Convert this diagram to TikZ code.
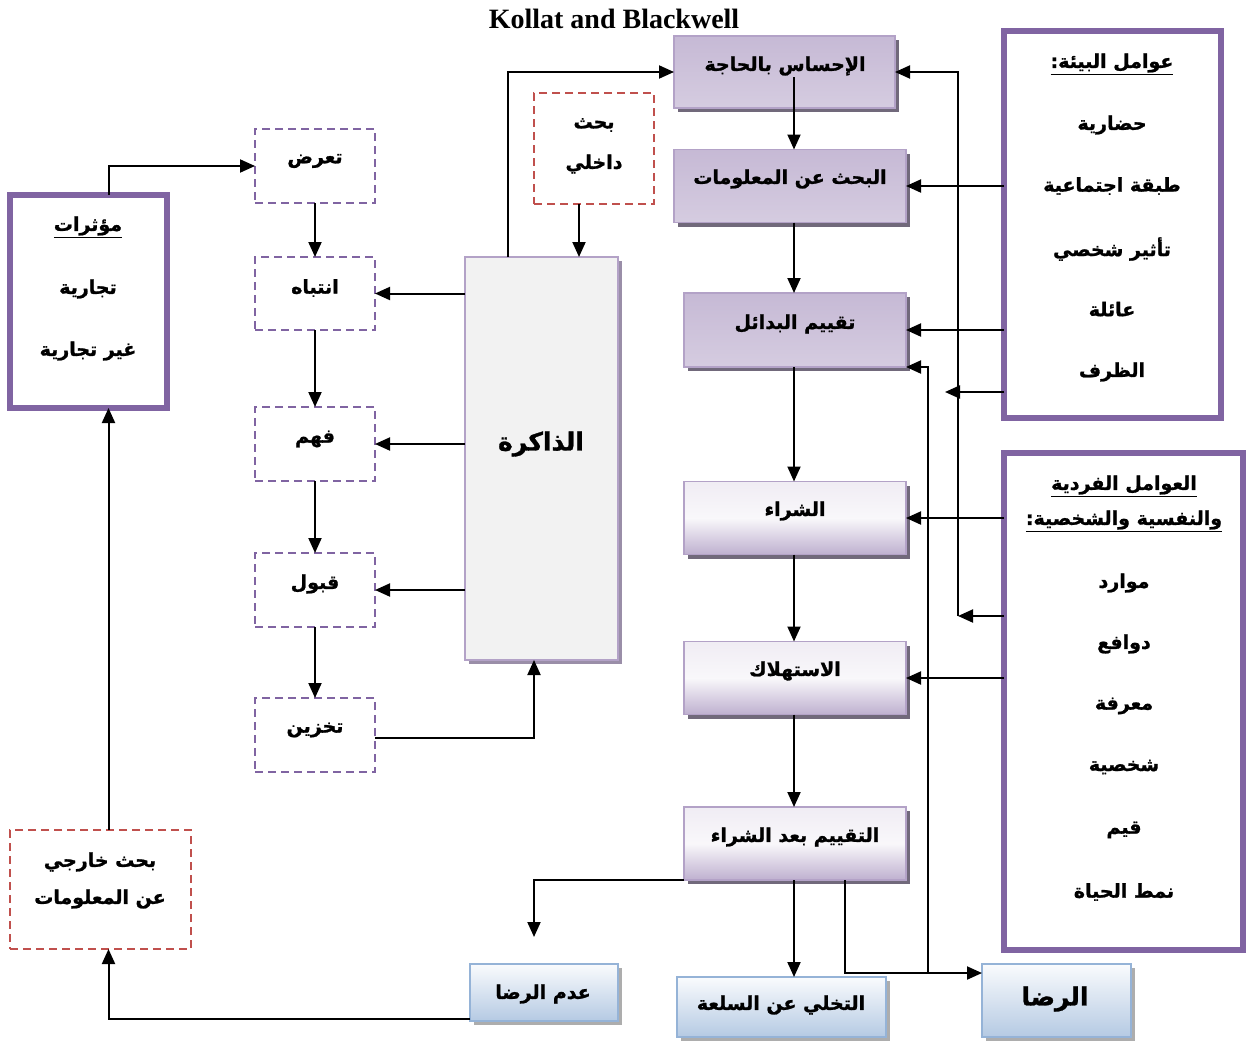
\documentclass[tikz,border=0pt]{standalone}
\usepackage{fontspec}
\setmainfont{Liberation Serif}
\newfontfamily\arabicfont[Script=Arabic,BoldFeatures={FakeBold=1.2}]{DejaVu Sans}
\TeXXeTstate=1
\usetikzlibrary{arrows.meta,shadows}
\newcommand{\artx}[1]{{\arabicfont\bfseries\beginR #1\endR}}
\definecolor{frame}{HTML}{8064A2}
\definecolor{lilac}{HTML}{B3A2C7}
\definecolor{redd}{HTML}{C0504D}
\definecolor{bluel}{HTML}{95B3D7}
\begin{document}
\begin{tikzpicture}[x=1pt,y=-1pt,
  every node/.style={inner sep=0pt,outer sep=0pt},
  txt/.style={font=\fontsize{19}{22}\selectfont,yshift=-4pt},
  bigtxt/.style={font=\fontsize{25}{29}\selectfont,yshift=-4pt},
  arr/.style={line width=2pt,-{Triangle[length=15pt,width=13pt]}},
  stage/.style={draw=lilac,line width=1.3pt,rectangle,
    top color=white!80!lilac,bottom color=lilac!85!white,middle color=white!92!lilac,
    drop shadow={shadow xshift=4pt,shadow yshift=-4pt,fill=black!45!lilac,opacity=0.9}},
  stagedark/.style={stage,top color=lilac!75!white,middle color=white!88!lilac,bottom color=lilac!55!white},
  outcome/.style={draw=bluel,line width=1.5pt,rectangle,
    top color=white!95!bluel,bottom color=bluel!70!white,
    drop shadow={shadow xshift=4pt,shadow yshift=-4pt,fill=black!40,opacity=0.8}},
  factor/.style={draw=frame,line width=6pt,rectangle,fill=white},
  dashp/.style={draw=frame,line width=1.5pt,dash pattern=on 8pt off 5pt,rectangle},
  dashr/.style={draw=redd,line width=1.5pt,dash pattern=on 8pt off 5pt,rectangle},
  memory/.style={draw=lilac,line width=1.5pt,fill=black!5,rectangle,
    drop shadow={shadow xshift=4pt,shadow yshift=-4pt,fill=lilac!80!black,opacity=0.9}}
]
\useasboundingbox (0,0) rectangle (1246,1041);

% title
\node[font=\fontsize{28}{32}\selectfont\bfseries] (title) at (614,19) {Kollat and Blackwell};

% decision stages (right column)
\node[stagedark,minimum width=221pt,minimum height=72pt] (need) at (784.5,72) {};
\node[stagedark,minimum width=232pt,minimum height=73pt] (search) at (790,186) {};
\node[stagedark,minimum width=222pt,minimum height=74pt] (eval) at (795,330) {};
\node[stage,minimum width=222pt,minimum height=73pt] (buy) at (795,518) {};
\node[stage,minimum width=222pt,minimum height=73pt] (cons) at (795,678) {};
\node[stage,minimum width=222pt,minimum height=73pt] (post) at (795,843.5) {};

\node[txt] (needT) at (785,62) {\artx{الإحساس بالحاجة}};
\node[txt] (searchT) at (790,175) {\artx{البحث عن المعلومات}};
\node[txt] (evalT) at (795,320) {\artx{تقييم البدائل}};
\node[txt] (buyT) at (795,507) {\artx{الشراء}};
\node[txt] (consT) at (795,667) {\artx{الاستهلاك}};
\node[txt] (postT) at (795,833) {\artx{التقييم بعد الشراء}};

% outcomes
\node[outcome,minimum width=209pt,minimum height=60pt] (aband) at (781.5,1007) {};
\node[outcome,minimum width=149pt,minimum height=73pt] (sat) at (1056.5,1000.5) {};
\node[outcome,minimum width=148pt,minimum height=57pt] (dis) at (544,992.5) {};
\node[txt] (abandT) at (781,1001) {\artx{التخلي عن السلعة}};
\node[bigtxt] (satT) at (1055,995) {\artx{الرضا}};
\node[txt] (disT) at (543,990) {\artx{عدم الرضا}};

% environmental factors
\node[factor,minimum width=217pt,minimum height=387pt] (env) at (1112.5,224.5) {};
\node[txt] (envH) at (1112,60) {\underline{\artx{عوامل البيئة:}}};
\node[txt] (env1) at (1112,121) {\artx{حضارية}};
\node[txt] (env2) at (1112,182) {\artx{طبقة اجتماعية}};
\node[txt] (env3) at (1112,245) {\artx{تأثير شخصي}};
\node[txt] (env4) at (1112,305) {\artx{عائلة}};
\node[txt] (env5) at (1112,368) {\artx{الظرف}};

% individual factors
\node[factor,minimum width=239pt,minimum height=497pt] (ind) at (1123.5,701.5) {};
\node[txt] (indH1) at (1124,482) {\underline{\artx{العوامل الفردية}}};
\node[txt] (indH2) at (1124,517) {\underline{\artx{والنفسية والشخصية:}}};
\node[txt] (ind1) at (1124,579) {\artx{موارد}};
\node[txt] (ind2) at (1124,640) {\artx{دوافع}};
\node[txt] (ind3) at (1124,702) {\artx{معرفة}};
\node[txt] (ind4) at (1124,763) {\artx{شخصية}};
\node[txt] (ind5) at (1124,826) {\artx{قيم}};
\node[txt] (ind6) at (1124,888) {\artx{نمط الحياة}};

% stimuli
\node[factor,minimum width=157pt,minimum height=213pt] (infl) at (88.5,301.5) {};
\node[txt] (inflH) at (88,223) {\underline{\artx{مؤثرات}}};
\node[txt] (infl1) at (88,285) {\artx{تجارية}};
\node[txt] (infl2) at (88,347) {\artx{غير تجارية}};

% memory
\node[memory,minimum width=153pt,minimum height=403pt] (mem) at (541.5,458.5) {};
\node[bigtxt] (memT) at (541,440) {\artx{الذاكرة}};

% information processing
\node[dashp,minimum width=120pt,minimum height=74pt] (expo) at (315,166) {};
\node[dashp,minimum width=120pt,minimum height=73pt] (attn) at (315,293.5) {};
\node[dashp,minimum width=120pt,minimum height=74pt] (comp) at (315,444) {};
\node[dashp,minimum width=120pt,minimum height=74pt] (acc) at (315,590) {};
\node[dashp,minimum width=120pt,minimum height=74pt] (store) at (315,735) {};
\node[txt] (expoT) at (315,157) {\artx{تعرض}};
\node[txt] (attnT) at (315,284) {\artx{انتباه}};
\node[txt] (compT) at (315,435) {\artx{فهم}};
\node[txt] (accT) at (315,580) {\artx{قبول}};
\node[txt] (storeT) at (315,726) {\artx{تخزين}};

% search boxes
\node[dashr,minimum width=120pt,minimum height=111pt] (intsr) at (594,148.5) {};
\node[txt] (intsrT1) at (594,121) {\artx{بحث}};
\node[txt] (intsrT2) at (594,160) {\artx{داخلي}};
\node[dashr,minimum width=181pt,minimum height=119pt] (extsr) at (100.5,889.5) {};
\node[txt] (extsrT1) at (100,858) {\artx{بحث خارجي}};
\node[txt] (extsrT2) at (100,895) {\artx{عن المعلومات}};

% free ends and bends
\coordinate (colx) at (794,0);
\coordinate (busBot) at (958,616);
\coordinate (envTip) at (945,392);
\coordinate (fb) at (928,973);
\coordinate (disTip) at (534,937);

% memory and processing links
\draw[arr] ([xshift=43pt]mem.north west) |- (need.west);
\draw[arr] ([xshift=-15pt]intsr.south) -- ([xshift=-15pt]intsr.south |- mem.north);
\draw[arr] (mem.west |- attn.east) -- (attn.east);
\draw[arr] (mem.west |- comp.east) -- (comp.east);
\draw[arr] (mem.west |- acc.east) -- (acc.east);
\draw[arr] ([yshift=-3pt]store.east) -| ([xshift=69pt]mem.south west);
\draw[arr] (expo) -- (attn);
\draw[arr] (attn) -- (comp);
\draw[arr] (comp) -- (acc);
\draw[arr] (acc) -- (store);
\draw[arr] ([xshift=20pt]infl.north) |- (expo.west);
\draw[arr] ([xshift=8pt]extsr.north) -- ([xshift=8pt]extsr.north |- infl.south);
\draw[arr] ([yshift=-26.5pt]dis.west) -| ([xshift=8pt]extsr.south);

% decision process
\draw[arr] ([yshift=-5pt]need.center -| colx) -- (search.north -| colx);
\draw[arr] (search.south -| colx) -- (eval.north -| colx);
\draw[arr] (eval.south -| colx) -- (buy.north -| colx);
\draw[arr] (buy.south -| colx) -- (cons.north -| colx);
\draw[arr] (cons.south -| colx) -- (post.north -| colx);
\draw[arr] (post.south -| colx) -- (aband.north -| colx);
\draw[arr] ([xshift=50pt]post.south) |- ([yshift=27.5pt]sat.west);
\draw[arr] (post.south west) -| (disTip);
\draw[arr] (fb) |- (eval.south east);

% influences of the factors
\draw[arr] (busBot) |- (need.east);
\draw[arr] (ind.west |- busBot) -- (busBot);
\draw[arr] ([yshift=-167.5pt]env.west) -- (envTip);
\draw[arr] (env.west |- search.east) -- (search.east);
\draw[arr] (env.west |- eval.east) -- (eval.east);
\draw[arr] (ind.west |- buy.east) -- (buy.east);
\draw[arr] (ind.west |- cons.east) -- (cons.east);
\end{tikzpicture}
\end{document}
